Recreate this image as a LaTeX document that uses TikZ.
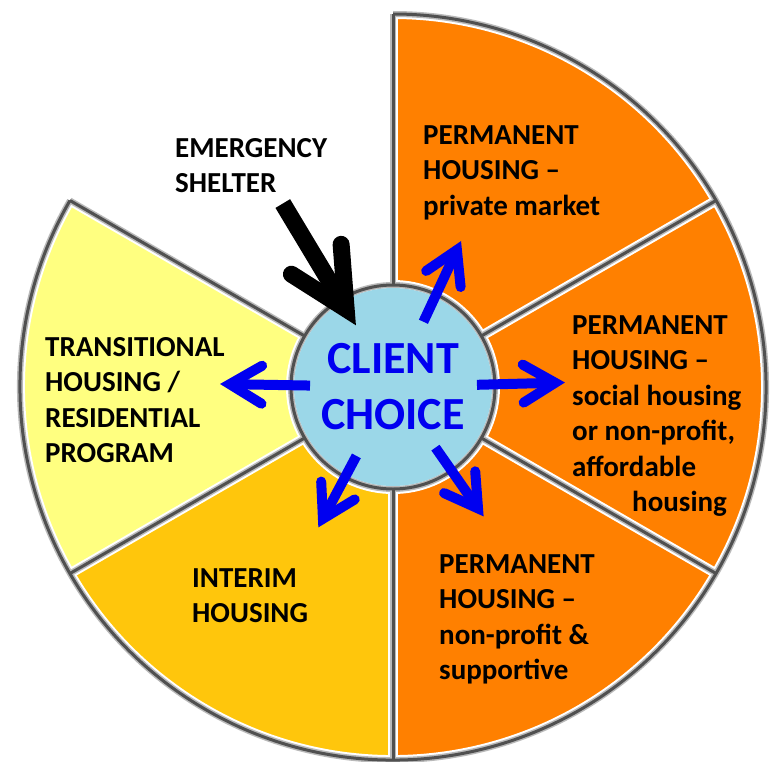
\documentclass[tikz,border=0pt]{standalone}
\usepackage{fontspec}
\setmainfont{Carlito}
\usetikzlibrary{arrows.meta,calc}

\definecolor{wheelorange}{RGB}{255,128,0}
\definecolor{wheelyellow}{RGB}{255,255,128}
\definecolor{wheelgold}{RGB}{255,198,12}
\definecolor{hubblue}{RGB}{155,215,232}
\definecolor{arrowblue}{RGB}{0,0,240}
\definecolor{rimgray}{RGB}{80,80,80}

\begin{document}
\begin{tikzpicture}[
    x=1pt, y=1pt,
    lbl/.style={anchor=north west, inner sep=0pt, align=left,
                font=\fontsize{29}{35.5}\selectfont\bfseries},
    hub/.style={circle, fill=hubblue, minimum size=198pt, inner sep=0pt,
                align=center, text=arrowblue,
                font=\fontsize{46}{56}\selectfont\bfseries},
    outarr/.style={draw=arrowblue, line width=10pt,
                -{Straight Barb[length=32pt, width=38pt, line cap=round, line join=miter]}},
    inarr/.style={draw=black, line width=17pt,
                -{Straight Barb[length=58pt, width=58pt, line cap=round, line join=miter]}}
]
\useasboundingbox (-393,-374) rectangle (382,387);

% --- coloured wheel segments ---
\foreach \a/\b/\c in {30/90/wheelorange, -30/30/wheelorange, -90/-30/wheelorange,
                      150/210/wheelyellow, 210/270/wheelgold}
  \fill[\c] (\a:102) arc[start angle=\a, end angle=\b, radius=102]
            -- (\b:373) arc[start angle=\b, end angle=\a, radius=373] -- cycle;

% rim and spokes, soft edged
\foreach \w/\c in {10/white, 6/gray!55, 3/rimgray} {
  \draw[line width=\w pt, draw=\c] (150:373) arc[start angle=150, end angle=450, radius=373];
  \foreach \a in {90,30,-30,-90,150,210}
    \draw[line width=\w pt, draw=\c] (\a:102) -- (\a:373);
  \draw[line width=\w pt, draw=\c] (0,0) circle[radius=102];
}

% --- hub ---
\node[hub] (choice) at (0,0) {CLIENT\\CHOICE};

% --- segment labels ---
\node[lbl] (shelter) at (-218,249) {EMERGENCY\\SHELTER};
\node[lbl] (private) at (30,262) {PERMANENT\\HOUSING –\\private market};
\node[lbl] (social) at (179,72) {PERMANENT\\HOUSING –\\social housing\\or non-profit,\\affordable\\\hspace*{60pt}housing};
\node[lbl] (support) at (46,-167) {PERMANENT\\HOUSING –\\non-profit \&\\supportive};
\node[lbl] (transit) at (-348,50) {TRANSITIONAL\\HOUSING /\\RESIDENTIAL\\PROGRAM};
\node[lbl] (interim) at (-201,-181) {INTERIM\\HOUSING};

% arrow ends
\coordinate (private tip) at (65:161);
\coordinate (social tip) at (1.5:172);
\coordinate (support tip) at (-55:158);
\coordinate (interim tip) at (242:159);
\coordinate (transit tip) at (179:173);
\coordinate (shelter tail) at (121:214);

% --- arrows out of the hub ---
\draw[outarr, shorten <=72pt] (choice.center) -- (private tip);
\draw[outarr, shorten <=84pt] (choice.center) -- (social tip);
\draw[outarr, shorten <=74pt] (choice.center) -- (support tip);
\draw[outarr, shorten <=78pt] (choice.center) -- (interim tip);
\draw[outarr, shorten <=83pt] (choice.center) -- (transit tip);

% shelter feeds in
\draw[inarr, shorten >=72pt] (shelter tail) -- (choice.center);

\end{tikzpicture}
\end{document}
